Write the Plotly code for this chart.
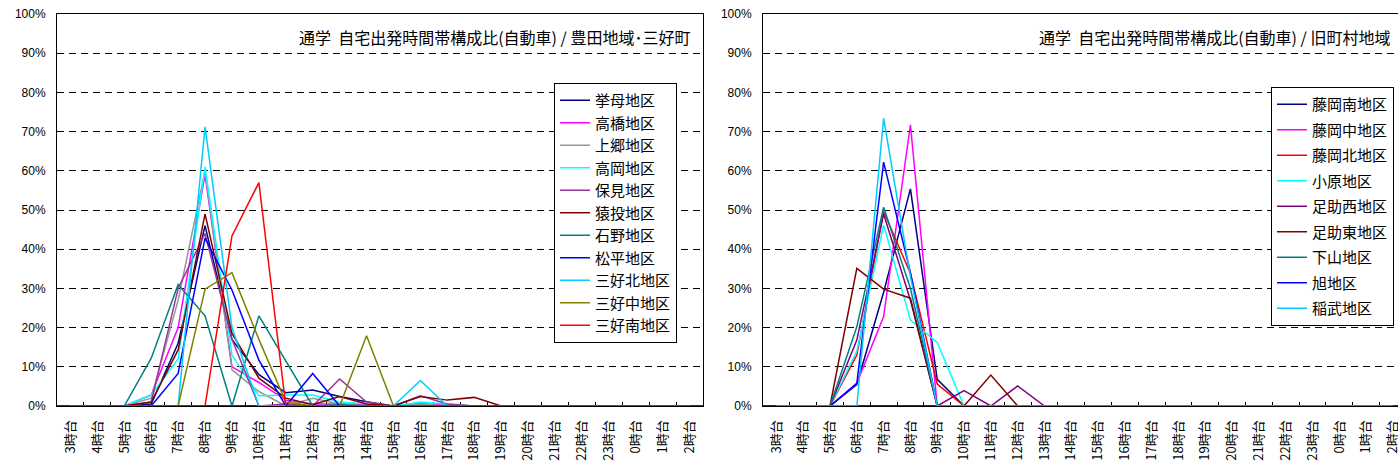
import plotly.graph_objects as go

# 時間帯カテゴリ
hours = ["3時台", "4時台", "5時台", "6時台", "7時台", "8時台", "9時台", "10時台",
         "11時台", "12時台", "13時台", "14時台", "15時台", "16時台", "17時台",
         "18時台", "19時台", "20時台", "21時台", "22時台", "23時台", "0時台",
         "1時台", "2時台"]

pad = [0] * 7  # 20時台〜2時台

# 豊田地域・三好町 (%)
koromo    = [0, 0, 0, 0.5, 16, 46, 17, 8, 3.4, 4.1, 2.4, 1.1, 0, 0.5, 0, 0, 0] + pad
takahashi = [0, 0, 0, 2.8, 20, 59, 10, 6, 1.5, 0.5, 0.5, 0.3, 0, 0.5, 0.3, 0, 0] + pad
kamigo    = [0, 0, 0, 2, 27, 60, 9.2, 3.7, 0, 2, 0.5, 0, 0, 0.5, 0, 0, 0] + pad
takaoka   = [0, 0, 0, 2.8, 12, 61, 13, 2.6, 2.8, 2.8, 1, 0.5, 0, 1, 0.5, 0, 0] + pad
homi      = [0, 0, 0, 1, 30, 44, 17, 0, 0.5, 0, 6.9, 1, 0, 2.6, 0.5, 0, 0] + pad
sanage    = [0, 0, 0, 1, 14.3, 49, 18.5, 7.1, 2, 0.3, 2.4, 0.5, 0, 2.4, 1.5, 2.2, 0] + pad
ishino    = [0, 0, 0, 12.2, 31, 23, 0, 23, 11.5, 0, 0.3, 0, 0, 0, 0, 0, 0] + pad
matsudaira = [0, 0, 0, 0, 8.3, 42.8, 29.6, 11.7, 0, 8.3, 0, 0, 0, 0, 0, 0, 0] + pad
miyoshi_n = [0, 0, 0, 0, 0, 71.2, 20, 0, 0, 0, 0, 0, 0, 6.5, 0, 0, 0] + pad
miyoshi_c = [0, 0, 0, 0, 0, 29.8, 34, 17, 1, 0, 0, 17.9, 0, 0, 0, 0, 0] + pad
miyoshi_s = [0, 0, 0, 0, 0, 0, 43.4, 57, 0, 0, 0, 0, 0, 0, 0, 0, 0] + pad

# 旧町村地域 (%)
fujioka_s = [0, 0, 0, 5.5, 29, 55.4, 6.8, 0, 0, 0, 0, 0, 0, 0, 0, 0, 0] + pad
fujioka_c = [0, 0, 0, 5.8, 22.8, 71.7, 0, 0, 0, 0, 0, 0, 0, 0, 0, 0, 0] + pad
fujioka_n = [0, 0, 0, 13, 49.6, 33.8, 5.6, 0, 0, 0, 0, 0, 0, 0, 0, 0, 0] + pad
obara     = [0, 0, 0, 14, 46.2, 21.9, 16.2, 0, 0, 0, 0, 0, 0, 0, 0, 0, 0] + pad
asuke_w   = [0, 0, 0, 16.8, 49, 27, 0, 3.9, 0, 5.1, 0, 0, 0, 0, 0, 0, 0] + pad
asuke_e   = [0, 0, 0, 35.1, 29.8, 27.5, 0, 0, 7.9, 0, 0, 0, 0, 0, 0, 0, 0] + pad
shimoyama = [0, 0, 0, 20.2, 50.7, 30, 0, 0, 0, 0, 0, 0, 0, 0, 0, 0, 0] + pad
asahi     = [0, 0, 0, 5.8, 62.2, 34, 0, 0, 0, 0, 0, 0, 0, 0, 0, 0, 0] + pad
inabu     = [0, 0, 0, 0, 73.4, 33, 0, 0, 0, 0, 0, 0, 0, 0, 0, 0, 0] + pad

left_series = [
    ("挙母地区", koromo, "#000080"),
    ("高橋地区", takahashi, "#FF00FF"),
    ("上郷地区", kamigo, "#969696"),
    ("高岡地区", takaoka, "#00FFFF"),
    ("保見地区", homi, "#993399"),
    ("猿投地区", sanage, "#800000"),
    ("石野地区", ishino, "#008080"),
    ("松平地区", matsudaira, "#0000FF"),
    ("三好北地区", miyoshi_n, "#00CCFF"),
    ("三好中地区", miyoshi_c, "#808000"),
    ("三好南地区", miyoshi_s, "#FF0000"),
]
right_series = [
    ("藤岡南地区", fujioka_s, "#000080"),
    ("藤岡中地区", fujioka_c, "#FF00FF"),
    ("藤岡北地区", fujioka_n, "#FF0000"),
    ("小原地区", obara, "#00FFFF"),
    ("足助西地区", asuke_w, "#800080"),
    ("足助東地区", asuke_e, "#800000"),
    ("下山地区", shimoyama, "#008080"),
    ("旭地区", asahi, "#0000FF"),
    ("稲武地区", inabu, "#00CCFF"),
]

W, H = 1398, 466
FONT = "Liberation Sans, Noto Sans CJK JP, sans-serif"
CJK = "Noto Sans CJK JP, sans-serif"

fig = go.Figure()
for name, vals, col in left_series:
    fig.add_trace(go.Scatter(x=hours, y=vals, name=name, mode="lines",
                             line=dict(color=col, width=1.5),
                             xaxis="x", yaxis="y", legend="legend",
                             legendgroup="L" + name))
for name, vals, col in right_series:
    fig.add_trace(go.Scatter(x=hours, y=vals, name=name, mode="lines",
                             line=dict(color=col, width=1.5),
                             xaxis="x2", yaxis="y2", legend="legend2",
                             legendgroup="R" + name))

y_dom = [1 - 406 / H, 1 - 14 / H]

xcommon = dict(type="category", categoryorder="array", categoryarray=hours,
               tickangle=-90, tickfont=dict(family=CJK, size=13, color="black"),
               ticks="inside", tickson="boundaries", ticklen=4, tickcolor="black",
               showline=True, mirror=True, linecolor="black", linewidth=1,
               showgrid=False, zeroline=False, automargin=False,
               ticklabelstandoff=8, layer="below traces")
ycommon = dict(range=[0, 100], dtick=10, ticksuffix="%", domain=y_dom,
               tickfont=dict(family=FONT, size=12, color="black"),
               showgrid=True, gridcolor="black", gridwidth=1, griddash="7px,5px",
               showline=True, mirror=True, linecolor="black", linewidth=1,
               zeroline=False, automargin=False, ticks="",
               ticklabelstandoff=8, layer="below traces")

fig.update_layout(
    width=W, height=H,
    margin=dict(l=0, r=0, t=0, b=0),
    paper_bgcolor="white", plot_bgcolor="white",
    showlegend=True,
    xaxis=dict(domain=[57 / W, 703 / W], range=[-0.5, 23.5], anchor="y", **xcommon),
    yaxis=dict(anchor="x", **ycommon),
    xaxis2=dict(domain=[763 / W, 1.0], range=[-0.5, 23.19], anchor="y2", **xcommon),
    yaxis2=dict(anchor="x2", **ycommon),
    legend=dict(x=554 / W, y=1 - 83 / H, xanchor="left", yanchor="top",
                bordercolor="black", borderwidth=1, bgcolor="white",
                font=dict(family=CJK, size=15, color="black"),
                tracegroupgap=0, itemwidth=30),
    legend2=dict(x=1271 / W, y=1 - 87 / H, xanchor="left", yanchor="top",
                 bordercolor="black", borderwidth=1, bgcolor="white",
                 font=dict(family=CJK, size=15, color="black"),
                 tracegroupgap=3, itemwidth=30),
    annotations=[
        dict(text="通学  自宅出発時間帯構成比(自動車) / 豊田地域･三好町",
             xref="paper", yref="paper", x=692 / W, y=1 - 37 / H,
             xanchor="right", yanchor="middle", showarrow=False,
             font=dict(family=CJK, size=16, color="black")),
        dict(text="通学  自宅出発時間帯構成比(自動車) / 旧町村地域",
             xref="paper", yref="paper", x=1392 / W, y=1 - 37 / H,
             xanchor="right", yanchor="middle", showarrow=False,
             font=dict(family=CJK, size=16, color="black")),
    ],
    shapes=[
        dict(type="line", xref="x domain", yref="y", x0=0, x1=1, y0=0, y1=0,
             line=dict(color="#333333", width=2), layer="below"),
        dict(type="line", xref="x2 domain", yref="y2", x0=0, x1=1, y0=0, y1=0,
             line=dict(color="#333333", width=2), layer="below"),
    ],
)

fig.write_html("out.html")
